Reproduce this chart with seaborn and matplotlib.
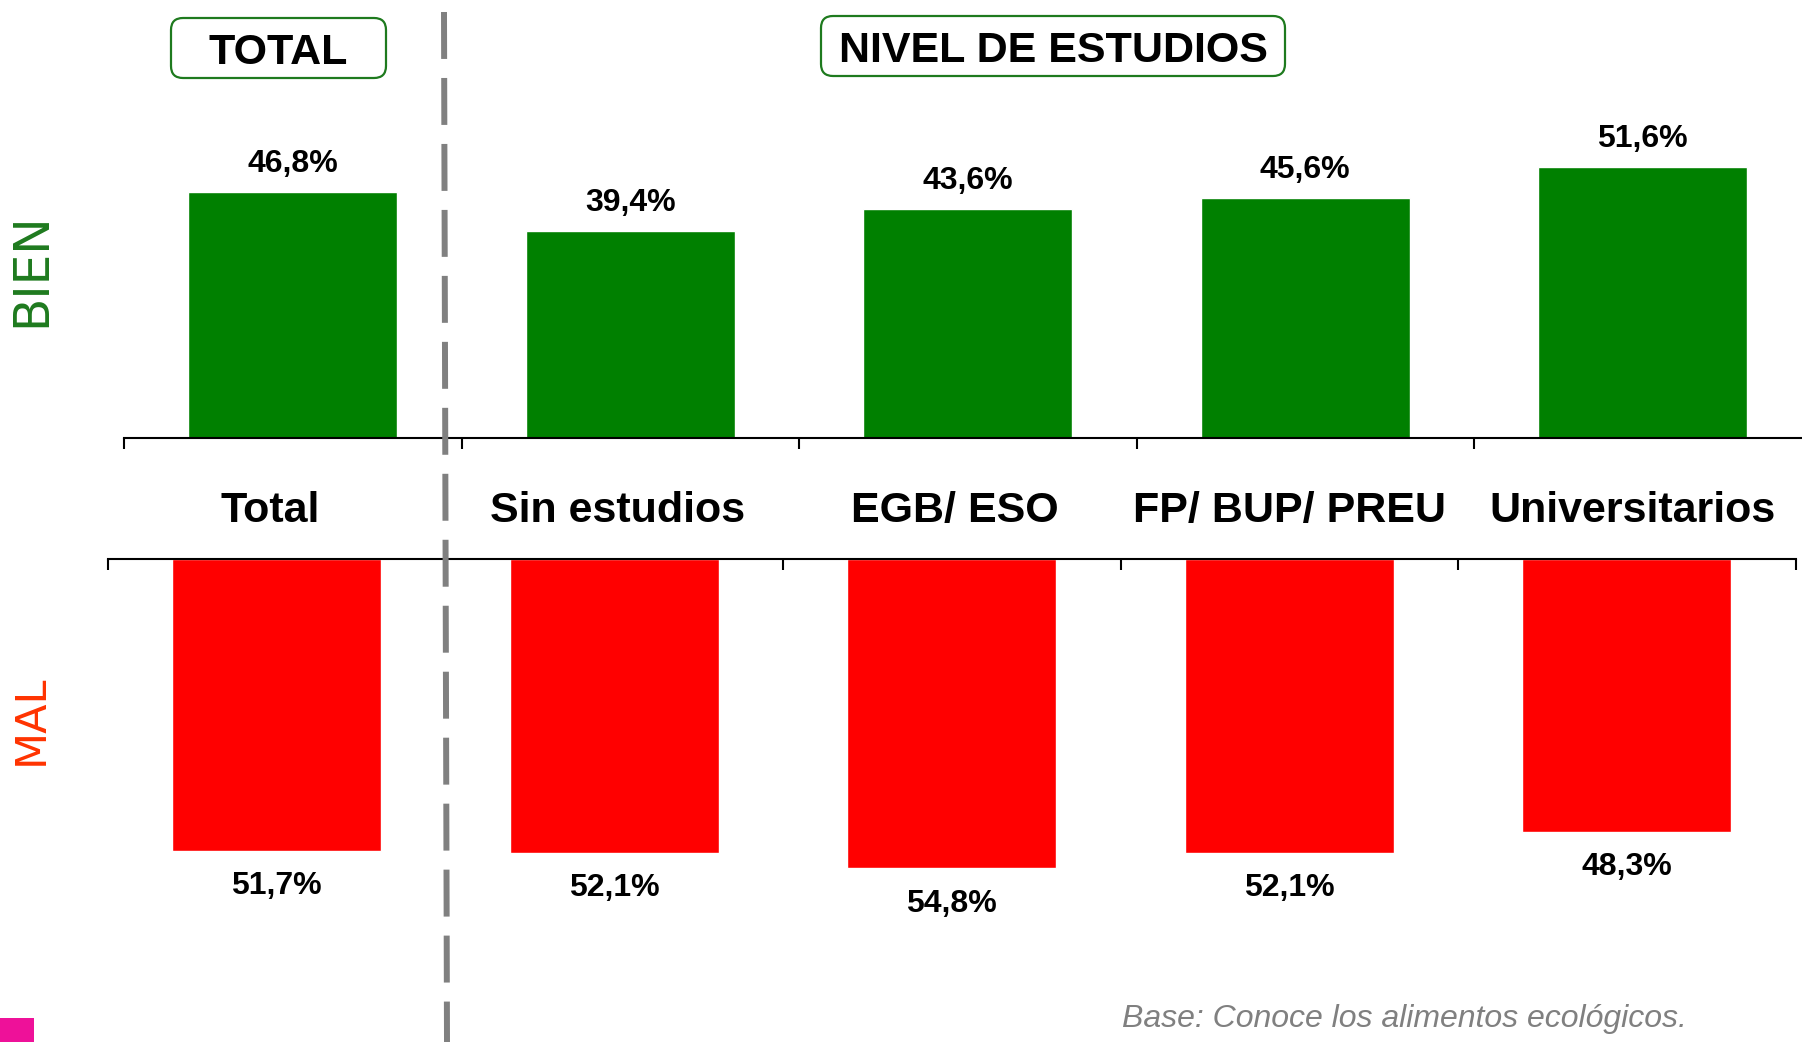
import matplotlib
matplotlib.use('Agg')
import matplotlib.pyplot as plt
import matplotlib.transforms as mtransforms
from matplotlib.patches import FancyBboxPatch, Rectangle
from matplotlib.lines import Line2D
import seaborn as sns
import pandas as pd

# ---- data ----
categories = ["Total", "Sin estudios", "EGB/ ESO", "FP/ BUP/ PREU", "Universitarios"]
bien = [46.8, 39.4, 43.6, 45.6, 51.6]
mal = [51.7, 52.1, 54.8, 52.1, 48.3]
header_total = "TOTAL"
header_nivel = "NIVEL DE ESTUDIOS"
footnote = "Base: Conoce los alimentos ecológicos."

# small manual nudges (pixels) of the category captions, as in the original slide
label_dx = [-7, 3, 3.5, 0, 6]

sns.set_style('white')
plt.rcParams['font.family'] = ['Liberation Sans', 'DejaVu Sans']

W, H = 1802, 1042
fig = plt.figure(figsize=(W / 100, H / 100), dpi=100, facecolor='white')


def fx(px):
    return px / W


def fy(py):
    return 1 - py / H


def fmt(v):
    return f"{v:.1f}".replace('.', ',') + '%'


cat_w = 337.5
ax_top = fig.add_axes([fx(124), fy(438), fx(5 * cat_w), 420.5 / H])
ax_bot = fig.add_axes([fx(108), fy(1010.8), fx(5 * cat_w), 451.8 / H])

df = pd.DataFrame({'cat': categories, 'bien': bien, 'mal': mal})
sns.barplot(data=df, x='cat', y='bien', order=categories, color='#008000',
            saturation=1, width=0.62, errorbar=None, ax=ax_top)
sns.barplot(data=df, x='cat', y='mal', order=categories, color='#FF0000',
            saturation=1, width=0.62, errorbar=None, ax=ax_bot)

n = len(categories)
bounds = [i - 0.5 for i in range(n + 1)]

ax_top.set_xlim(-0.5, n - 0.5)
ax_top.set_ylim(0, 80)
ax_bot.set_xlim(-0.5, n - 0.5)
ax_bot.set_ylim(80, 0)

for ax in (ax_top, ax_bot):
    ax.set_xlabel('')
    ax.set_ylabel('')
    ax.set_yticks([])
    ax.set_facecolor('none')
    for s in ax.spines.values():
        s.set_visible(False)

ax_top.spines['bottom'].set_visible(True)
ax_top.spines['bottom'].set_linewidth(1.5)
ax_top.spines['bottom'].set_color('black')
ax_bot.spines['top'].set_visible(True)
ax_bot.spines['top'].set_linewidth(1.5)
ax_bot.spines['top'].set_color('black')

ax_top.set_xticks(bounds)
ax_top.tick_params(axis='x', direction='out', length=8, width=1.5, color='black',
                   bottom=True, top=False, labelbottom=False, labeltop=False)
ax_bot.set_xticks(bounds)
ax_bot.tick_params(axis='x', direction='in', length=8, width=1.5, color='black',
                   bottom=False, top=True, labelbottom=False, labeltop=False)

# value labels
for i, v in enumerate(bien):
    ax_top.annotate(fmt(v), xy=(i, v), xytext=(0, 14.4), textcoords='offset points',
                    ha='center', va='baseline', fontsize=23, fontweight='bold',
                    color='black')
for i, v in enumerate(mal):
    ax_bot.annotate(fmt(v), xy=(i, v), xytext=(0, -31), textcoords='offset points',
                    ha='center', va='baseline', fontsize=23, fontweight='bold',
                    color='black')

# category labels between the two axes
trans = mtransforms.blended_transform_factory(ax_bot.transData, fig.transFigure)
for i, c in enumerate(categories):
    t = trans + mtransforms.ScaledTranslation(label_dx[i] / 100, 0, fig.dpi_scale_trans)
    ax_bot.text(i, fy(522), c, transform=t, ha='center', va='baseline',
                fontsize=31, fontweight='bold', color='black', clip_on=False)


# header boxes
def header(x0, y0, x1, y1, text, cx, base):
    p = FancyBboxPatch((x0 / 100, (H - y1) / 100), (x1 - x0) / 100, (y1 - y0) / 100,
                       boxstyle='round,pad=0,rounding_size=0.12',
                       transform=fig.dpi_scale_trans, ec='#1E7A1E', fc='white', lw=1.6)
    fig.add_artist(p)
    fig.text(fx(cx), fy(base), text, ha='center', va='baseline', fontsize=31,
             fontweight='bold', color='black')


header(171, 18, 386, 78, header_total, 278, 64)
header(821, 16, 1285, 76, header_nivel, 1053.5, 62)

# side labels
fig.text(fx(31), fy(270), 'BIEN', rotation=90, ha='center', va='center',
         color='#1E7A1E', fontsize=35, family='DejaVu Sans')
fig.text(fx(31), fy(720), 'MAL', rotation=90, ha='center', va='center',
         color='#FF3300', fontsize=31, family='DejaVu Sans')

# footnote
fig.text(fx(1687), fy(1027), footnote, ha='right', va='baseline', fontsize=23,
         style='italic', color='#808080')

# pink corner mark
fig.add_artist(Rectangle((0, 0), 0.34, 0.24, transform=fig.dpi_scale_trans,
                         color='#EE1199', lw=0))

# dashed separator
lw = 4.3
fig.add_artist(Line2D([4.44, 4.47], [(H - 12) / 100, 0], transform=fig.dpi_scale_trans,
                      color='#808080', lw=lw, linestyle=(0, (33.8 / lw, 13.7 / lw)),
                      solid_capstyle='butt', dash_capstyle='butt'))

fig.savefig('out.png', dpi=100, facecolor='white')
